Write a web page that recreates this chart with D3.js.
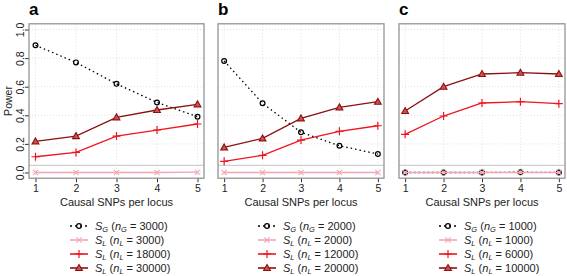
<!DOCTYPE html>
<html>
<head>
<meta charset="utf-8">
<script src="https://cdn.jsdelivr.net/npm/d3@7"></script>
<style>
  body { margin: 0; background: #fff; }
  svg { font-family: "Liberation Sans", Arial, sans-serif; }
</style>
</head>
<body>
<div id="chart"></div>
<script>
// Data
const snps = [1, 2, 3, 4, 5];
const panelLabels = ["a", "b", "c"];
const nG = [3000, 2000, 1000];
const nLlow = [3000, 2000, 1000];
const nLmid = [18000, 12000, 6000];
const nLhigh = [30000, 20000, 10000];

const sgA = [0.89, 0.77, 0.62, 0.49, 0.39];
const slLowA = [0, 0, 0, 0, 0.002];
const slMidA = [0.11, 0.14, 0.255, 0.297, 0.339];
const slHighA = [0.218, 0.255, 0.386, 0.437, 0.477];

const sgB = [0.78, 0.484, 0.281, 0.187, 0.129];
const slLowB = [0, 0, 0, 0, 0];
const slMidB = [0.078, 0.12, 0.227, 0.288, 0.327];
const slHighB = [0.176, 0.239, 0.379, 0.456, 0.495];

const sgC = [0, 0, 0, 0.002, 0];
const slLowC = [0, 0, 0, 0, 0];
const slMidC = [0.267, 0.395, 0.486, 0.495, 0.481];
const slHighC = [0.43, 0.60, 0.689, 0.698, 0.689];

const yTicks = [0, 0.2, 0.4, 0.6, 0.8, 1.0];
const threshold = 0.05;

const panels = [
  {label: panelLabels[0], sg: sgA, low: slLowA, mid: slMidA, high: slHighA, x0: 29, x1: 204, yAxis: true, legX: 70},
  {label: panelLabels[1], sg: sgB, low: slLowB, mid: slMidB, high: slHighB, x0: 218, x1: 384, yAxis: false, legX: 258},
  {label: panelLabels[2], sg: sgC, low: slLowC, mid: slMidC, high: slHighC, x0: 399, x1: 565, yAxis: false, legX: 439}
];

const width = 567, height = 276;
const plotTop = 23.8, plotBottom = 178.2;

const svg = d3.select("#chart").append("svg")
  .attr("width", width)
  .attr("height", height);

const y = d3.scaleLinear().domain([-0.04, 1.04]).range([plotBottom, plotTop]);

const styles = {
  sg: {color: "#000", dash: "1.5,3", width: 1.3, marker: "circle"},
  low: {color: "#f4a5b5", dash: null, width: 1.3, marker: "x"},
  mid: {color: "#f0141e", dash: null, width: 1.3, marker: "plus"},
  high: {color: "#8b1010", dash: null, width: 1.3, marker: "tri"}
};

function drawMarker(g, type, cx, cy, color) {
  if (type === "circle") {
    g.append("circle").attr("cx", cx).attr("cy", cy).attr("r", 2.4)
      .attr("fill", "none").attr("stroke", color).attr("stroke-width", 1.2);
  } else if (type === "x") {
    const s = 2.6;
    g.append("path").attr("d", `M${cx - s},${cy - s}L${cx + s},${cy + s}M${cx - s},${cy + s}L${cx + s},${cy - s}`)
      .attr("stroke", color).attr("stroke-width", 1.1);
  } else if (type === "plus") {
    const s = 4;
    g.append("path").attr("d", `M${cx - s},${cy}L${cx + s},${cy}M${cx},${cy - s}L${cx},${cy + s}`)
      .attr("stroke", color).attr("stroke-width", 1.2);
  } else if (type === "tri") {
    const s = 3.4;
    g.append("path").attr("d", `M${cx},${cy - s}L${cx + s},${cy + s * 0.75}L${cx - s},${cy + s * 0.75}Z`)
      .attr("fill", "#d45050").attr("stroke", color).attr("stroke-width", 1.1);
  }
}

panels.forEach((p, i) => {
  const x = d3.scaleLinear().domain([0.84, 5.16]).range([p.x0, p.x1]);
  const g = svg.append("g");

  // grid
  g.selectAll(".vgrid").data(snps).enter().append("line")
    .attr("x1", d => x(d)).attr("x2", d => x(d))
    .attr("y1", plotTop).attr("y2", plotBottom)
    .attr("stroke", "#d8d8d8").attr("stroke-dasharray", "1,2").attr("stroke-width", 0.8);
  g.selectAll(".hgrid").data(yTicks).enter().append("line")
    .attr("x1", p.x0).attr("x2", p.x1)
    .attr("y1", d => y(d)).attr("y2", d => y(d))
    .attr("stroke", "#d8d8d8").attr("stroke-dasharray", "1,2").attr("stroke-width", 0.8);

  // threshold
  g.append("line")
    .attr("x1", p.x0).attr("x2", p.x1)
    .attr("y1", y(threshold)).attr("y2", y(threshold))
    .attr("stroke", "#cfcfcf").attr("stroke-width", 1.3);

  // x axis
  const xAxis = g.append("g")
    .attr("transform", `translate(0,${plotBottom})`)
    .call(d3.axisBottom(x).tickValues(snps).tickSize(4).tickPadding(2).tickFormat(d3.format("d")));
  xAxis.select(".domain").remove();
  xAxis.selectAll("line").attr("stroke", "#333");
  xAxis.selectAll("text").attr("font-size", 10.5).attr("fill", "#222");

  g.append("text")
    .attr("x", (x(1) + x(5)) / 2)
    .attr("y", 206)
    .attr("text-anchor", "middle")
    .attr("font-size", 11)
    .attr("fill", "#222")
    .text("Causal SNPs per locus");

  if (p.yAxis) {
    const yAxis = g.append("g")
      .attr("transform", `translate(${p.x0},0)`)
      .call(d3.axisLeft(y).tickValues(yTicks).tickSize(4).tickFormat(d3.format(".1f")));
    yAxis.select(".domain").remove();
    yAxis.selectAll("line").attr("stroke", "#333");
    yAxis.selectAll("text")
      .attr("font-size", 10.5).attr("fill", "#222")
      .attr("transform", "translate(-5,0) rotate(-90)")
      .attr("x", 0).attr("y", 0).attr("dy", "0em")
      .attr("text-anchor", "middle");
    g.append("text")
      .attr("transform", `translate(12,${(plotTop + plotBottom) / 2}) rotate(-90)`)
      .attr("text-anchor", "middle")
      .attr("font-size", 10.5)
      .attr("fill", "#222")
      .text("Power");
  }

  // panel label
  g.append("text")
    .attr("x", p.x0)
    .attr("y", 15)
    .attr("font-size", 17)
    .attr("font-weight", "bold")
    .text(p.label);

  // series (S_G first, then S_L from smallest to largest n)
  const series = [
    {key: "sg", values: p.sg},
    {key: "low", values: p.low},
    {key: "mid", values: p.mid},
    {key: "high", values: p.high}
  ];
  const line = d3.line().x((d, j) => x(snps[j])).y(d => y(d));
  series.forEach(s => {
    const st = styles[s.key];
    g.append("path")
      .datum(s.values)
      .attr("d", line)
      .attr("fill", "none")
      .attr("stroke", st.color)
      .attr("stroke-width", st.width)
      .attr("stroke-dasharray", st.dash);
    s.values.forEach((v, j) => drawMarker(g, st.marker, x(snps[j]), y(v), st.color));
  });

  // box
  g.append("rect")
    .attr("x", p.x0).attr("y", plotTop)
    .attr("width", p.x1 - p.x0).attr("height", plotBottom - plotTop)
    .attr("fill", "none").attr("stroke", "#8c8c8c").attr("stroke-width", 1.2);

  // legend
  const legRows = [
    {key: "sg", sym: "S", sub: "G", nsub: "G", n: nG[i]},
    {key: "low", sym: "S", sub: "L", nsub: "L", n: nLlow[i]},
    {key: "mid", sym: "S", sub: "L", nsub: "L", n: nLmid[i]},
    {key: "high", sym: "S", sub: "L", nsub: "L", n: nLhigh[i]}
  ];
  legRows.forEach((r, k) => {
    const ly = 226 + k * 14;
    const st = styles[r.key];
    const lg = svg.append("g");
    lg.append("line")
      .attr("x1", p.legX).attr("x2", p.legX + 18)
      .attr("y1", ly).attr("y2", ly)
      .attr("stroke", st.color)
      .attr("stroke-width", r.key === "sg" ? 1.3 : 1.6)
      .attr("stroke-dasharray", r.key === "sg" ? "2,3" : null);
    drawMarker(lg, st.marker, p.legX + 9, ly, st.color);
    const t = lg.append("text")
      .attr("x", p.legX + 25)
      .attr("y", ly + 4)
      .attr("font-size", 11)
      .attr("fill", "#222");
    t.append("tspan").attr("font-style", "italic").text(r.sym);
    t.append("tspan").attr("font-style", "italic").attr("font-size", 7.5).attr("dy", 1.5).text(r.sub);
    t.append("tspan").attr("dy", -1.5).text(" (");
    t.append("tspan").attr("font-style", "italic").text("n");
    t.append("tspan").attr("font-style", "italic").attr("font-size", 7.5).attr("dy", 1.5).text(r.nsub);
    t.append("tspan").attr("dy", -1.5).text(" = " + r.n + ")");
  });
});
</script>
</body>
</html>
